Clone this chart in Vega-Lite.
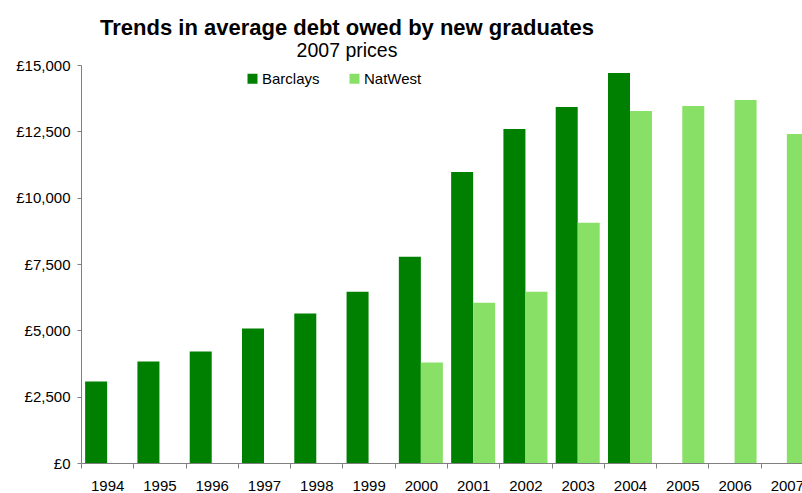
{
  "$schema": "https://vega.github.io/schema/vega-lite/v6.json",
  "width": 732,
  "height": 398,
  "autosize": {"type": "none"},
  "padding": {"left": 81, "top": 65, "right": -11, "bottom": 30},
  "title": {
    "text": "Trends in average debt owed by new graduates",
    "subtitle": "2007 prices",
    "anchor": "middle",
    "dx": -100,
    "offset": -3,
    "font": "Liberation Sans",
    "fontSize": 22,
    "fontWeight": "bold",
    "color": "#000000",
    "subtitleFont": "Liberation Sans",
    "subtitleFontSize": 19.5,
    "subtitleColor": "#000000",
    "subtitlePadding": 2
  },
  "data": {
    "values": [
      {"year": "1994", "bank": "Barclays", "debt": 3075},
      {"year": "1995", "bank": "Barclays", "debt": 3830},
      {"year": "1996", "bank": "Barclays", "debt": 4205},
      {"year": "1997", "bank": "Barclays", "debt": 5070},
      {"year": "1998", "bank": "Barclays", "debt": 5635},
      {"year": "1999", "bank": "Barclays", "debt": 6450},
      {"year": "2000", "bank": "Barclays", "debt": 7770},
      {"year": "2000", "bank": "NatWest", "debt": 3790},
      {"year": "2001", "bank": "Barclays", "debt": 10970},
      {"year": "2001", "bank": "NatWest", "debt": 6040},
      {"year": "2002", "bank": "Barclays", "debt": 12590},
      {"year": "2002", "bank": "NatWest", "debt": 6450},
      {"year": "2003", "bank": "Barclays", "debt": 13420},
      {"year": "2003", "bank": "NatWest", "debt": 9050},
      {"year": "2004", "bank": "Barclays", "debt": 14700},
      {"year": "2004", "bank": "NatWest", "debt": 13270},
      {"year": "2005", "bank": "NatWest", "debt": 13455},
      {"year": "2006", "bank": "NatWest", "debt": 13680},
      {"year": "2007", "bank": "NatWest", "debt": 12400}
    ]
  },
  "mark": {"type": "bar"},
  "encoding": {
    "x": {
      "field": "year",
      "type": "ordinal",
      "scale": {
        "domain": ["1994", "1995", "1996", "1997", "1998", "1999", "2000", "2001", "2002", "2003", "2004", "2005", "2006", "2007"],
        "paddingInner": 0,
        "paddingOuter": 0
      },
      "axis": {
        "title": null,
        "labelAngle": 0,
        "tickOffset": -26.14,
        "labelOffset": 26.14,
        "tickSize": 5,
        "labelPadding": 10,
        "domainColor": "#808080",
        "tickColor": "#808080",
        "labelFont": "Liberation Sans",
        "labelFontSize": 15,
        "labelColor": "#000000"
      }
    },
    "xOffset": {
      "field": "bank",
      "scale": {"domain": ["Barclays", "NatWest"], "paddingInner": 0, "paddingOuter": 0.188}
    },
    "y": {
      "field": "debt",
      "type": "quantitative",
      "scale": {"domain": [0, 15000], "nice": false},
      "axis": {
        "title": null,
        "values": [0, 2500, 5000, 7500, 10000, 12500, 15000],
        "labelExpr": "'£' + format(datum.value, ',')",
        "grid": false,
        "tickSize": 4,
        "labelPadding": 7,
        "domainColor": "#808080",
        "tickColor": "#808080",
        "labelFont": "Liberation Sans",
        "labelFontSize": 15,
        "labelColor": "#000000"
      }
    },
    "color": {
      "field": "bank",
      "type": "nominal",
      "scale": {"domain": ["Barclays", "NatWest"], "range": ["#008000", "#88E066"]},
      "legend": {
        "title": null,
        "orient": "none",
        "direction": "horizontal",
        "legendX": 164,
        "legendY": 6,
        "symbolType": "square",
        "symbolSize": 100,
        "symbolStrokeWidth": 0,
        "labelFont": "Liberation Sans",
        "labelFontSize": 15,
        "labelColor": "#000000",
        "labelOffset": 2,
        "columnPadding": 27
      }
    }
  },
  "config": {
    "view": {"stroke": null},
    "background": "#ffffff"
  }
}
